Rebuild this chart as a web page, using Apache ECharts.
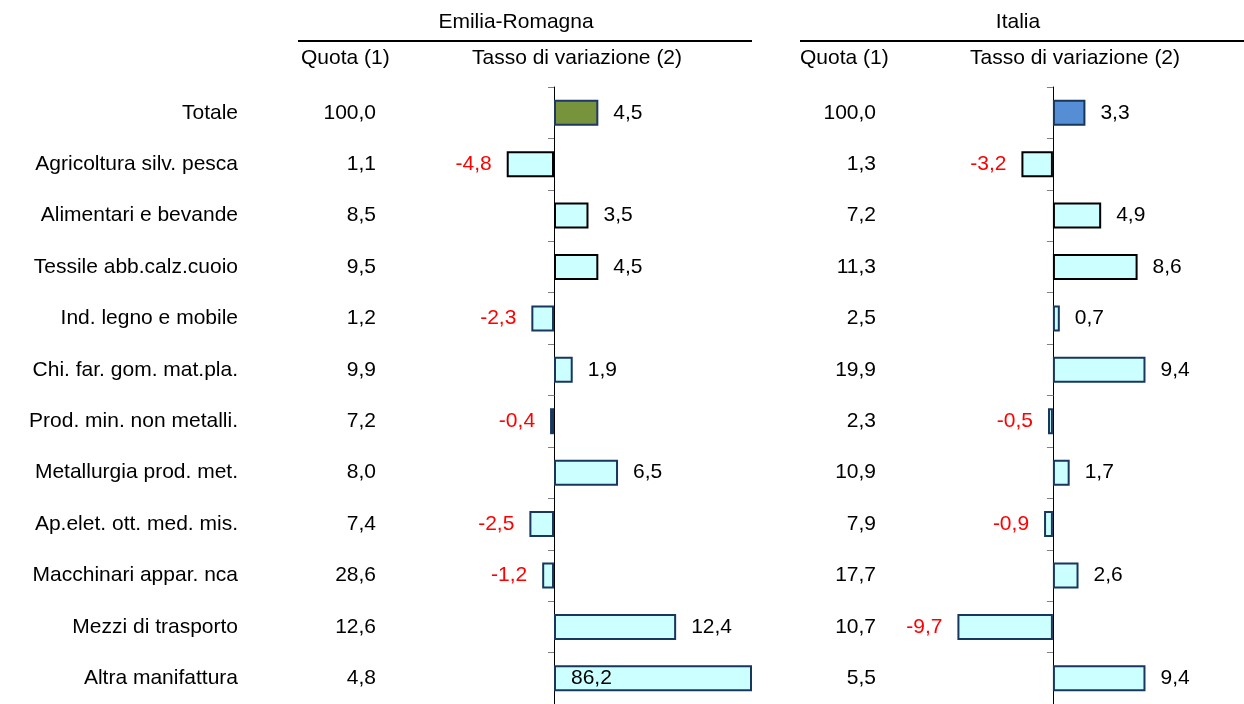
<!DOCTYPE html>
<html>
<head>
<meta charset="utf-8">
<title>Quote e tassi di variazione</title>
<script src="https://cdn.jsdelivr.net/npm/echarts@6/dist/echarts.min.js"></script>
<style>
  html, body { margin: 0; padding: 0; background: #fff; }
  #chart { width: 1244px; height: 704px; }
</style>
</head>
<body>
<div id="chart"></div>
<script>
// Settori (righe del grafico)
const categories = [
    'Totale',
    'Agricoltura silv. pesca',
    'Alimentari e bevande',
    'Tessile abb.calz.cuoio',
    'Ind. legno e mobile',
    'Chi. far. gom. mat.pla.',
    'Prod. min. non metalli.',
    'Metallurgia prod. met.',
    'Ap.elet. ott. med. mis.',
    'Macchinari appar. nca',
    'Mezzi di trasporto',
    'Altra manifattura'
];

// Emilia-Romagna
const quotaER = [100.0, 1.1, 8.5, 9.5, 1.2, 9.9, 7.2, 8.0, 7.4, 28.6, 12.6, 4.8];
const tassoER = [4.5, -4.8, 3.5, 4.5, -2.3, 1.9, -0.4, 6.5, -2.5, -1.2, 12.4, 86.2];

// Italia
const quotaIT = [100.0, 1.3, 7.2, 11.3, 2.5, 19.9, 2.3, 10.9, 7.9, 17.7, 10.7, 5.5];
const tassoIT = [3.3, -3.2, 4.9, 8.6, 0.7, 9.4, -0.5, 1.7, -0.9, 2.6, -9.7, 9.4];

// righe con bordo nero (le altre hanno bordo blu scuro)
const blackBorderRows = [1, 2, 3];

const FONT = '"Liberation Sans", Arial, sans-serif';
const FONT_SIZE = 21;
const AXIS_MIN = -20;
const AXIS_MAX = 20;

function fmt(v) {
    return v.toFixed(1).replace('.', ',');
}

function barData(values, totalFill, totalBorder) {
    return values.map((v, i) => {
        let fill = '#ccffff';
        let border = blackBorderRows.includes(i) ? '#000000' : '#17375e';
        if (i === 0) {
            fill = totalFill;
            border = totalBorder;
        }
        let pos = 'right';
        let dist = 15;
        if (v < 0) pos = 'left';
        if (v > AXIS_MAX) { pos = 'insideLeft'; dist = 17; }
        return {
            value: v,
            itemStyle: { color: fill, borderColor: border, borderWidth: 2 },
            label: {
                show: true,
                position: pos,
                distance: dist,
                color: v < 0 ? '#ff0000' : '#000000',
                fontSize: FONT_SIZE,
                fontFamily: FONT,
                formatter: fmt(v)
            }
        };
    });
}

const chart = echarts.init(document.getElementById('chart'));

const gridTop = 87;
const gridHeight = 624;

const panels = [
    { left: 357, width: 394, quota: quotaER, tasso: tassoER, fill: '#77933c', border: '#1f3864', quotaRight: 376, names: true },
    { left: 856, width: 384, quota: quotaIT, tasso: tassoIT, fill: '#558ed5', border: '#17375e', quotaRight: 876, names: false }
];

const grids = [];
const xAxes = [];
const yAxes = [];
const series = [];

panels.forEach((p, gi) => {
    grids.push({ left: p.left, top: gridTop, width: p.width, height: gridHeight });
    xAxes.push({
        gridIndex: gi, type: 'value', min: AXIS_MIN,
        max: gi === 0 ? AXIS_MAX : 19, show: false
    });

    const mainIndex = yAxes.length;
    yAxes.push({
        gridIndex: gi,
        type: 'category',
        data: categories,
        inverse: true,
        axisLine: { onZero: true, lineStyle: { color: '#000', width: 1 } },
        axisTick: { show: true, length: 6, lineStyle: { color: '#808080' } },
        axisLabel: { show: false },
        splitLine: { show: false }
    });

    // colonna quota
    yAxes.push({
        gridIndex: gi,
        type: 'category',
        data: p.quota.map(fmt),
        inverse: true,
        position: 'left',
        offset: p.left - p.quotaRight,
        axisLine: { show: false, onZero: false },
        axisTick: { show: false },
        axisLabel: { margin: 0, fontSize: FONT_SIZE, fontFamily: FONT, color: '#000' }
    });

    // nomi dei settori
    if (p.names) {
        yAxes.push({
            gridIndex: gi,
            type: 'category',
            data: categories,
            inverse: true,
            position: 'left',
            offset: p.left - 238,
            axisLine: { show: false, onZero: false },
            axisTick: { show: false },
            axisLabel: { margin: 0, fontSize: FONT_SIZE, fontFamily: FONT, color: '#000' }
        });
    }

    series.push({
        type: 'bar',
        xAxisIndex: gi,
        yAxisIndex: mainIndex,
        barWidth: 26,
        clip: true,
        data: barData(p.tasso, p.fill, p.border)
    });
});

function headerText(text, x, y, align) {
    return {
        type: 'text',
        x: x, y: y,
        style: {
            text: text, fill: '#000', font: FONT_SIZE + 'px ' + FONT,
            textAlign: align, textVerticalAlign: 'middle'
        }
    };
}

const graphics = [
    headerText('Emilia-Romagna', 516, 22, 'center'),
    { type: 'line', shape: { x1: 298, y1: 41, x2: 752, y2: 41 }, style: { stroke: '#000', lineWidth: 2 } },
    headerText('Quota (1)', 301, 58, 'left'),
    headerText('Tasso di variazione (2)', 577, 58, 'center'),
    headerText('Italia', 1018, 22, 'center'),
    { type: 'line', shape: { x1: 800, y1: 41, x2: 1244, y2: 41 }, style: { stroke: '#000', lineWidth: 2 } },
    headerText('Quota (1)', 800, 58, 'left'),
    headerText('Tasso di variazione (2)', 1075, 58, 'center')
];

chart.setOption({
    animation: false,
    backgroundColor: '#ffffff',
    textStyle: { fontFamily: FONT },
    grid: grids,
    xAxis: xAxes,
    yAxis: yAxes,
    series: series,
    graphic: graphics
});
</script>
</body>
</html>
